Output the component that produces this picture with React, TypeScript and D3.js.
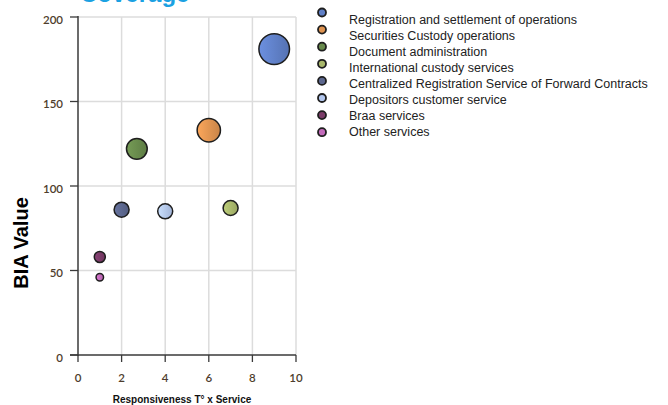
import React, { useEffect, useRef } from 'react';
import * as d3 from 'd3';

const services = [
  'Registration and settlement of operations',
  'Securities Custody operations',
  'Document administration',
  'International custody services',
  'Centralized Registration Service of Forward Contracts',
  'Depositors customer service',
  'Braa services',
  'Other services',
];
const responsiveness = [9, 6, 2.7, 7, 2, 4, 1, 1];
const biaValue = [181, 133, 122, 87, 86, 85, 58, 46];
const bubbleSize = [100, 58, 46, 24, 24, 24, 13, 6];
const colors = ['#5f7fc6', '#de9350', '#688a4c', '#a9b86c', '#5c678e', '#b3c7ee', '#7a3b68', '#c36bbb'];
const xTicks = [0, 2, 4, 6, 8, 10];
const yTicks = [0, 50, 100, 150, 200];

export default function App() {
  const svgRef = useRef<SVGSVGElement>(null);

  useEffect(() => {
    if (!svgRef.current) return;
    const svg = d3.select(svgRef.current);
    svg.selectAll('*').remove();

    const x = d3.scaleLinear().domain([0, 10]).range([78, 296]);
    const y = d3.scaleLinear().domain([0, 200]).range([355, 17]);
    const r = d3.scaleSqrt().domain([0, 100]).range([0, 15.3]);

    // title, cut by the top edge as in the source
    svg.append('text')
      .attr('x', 80).attr('y', 1.5)
      .attr('font-family', 'Liberation Sans, Arial, sans-serif')
      .attr('font-weight', 'bold').attr('font-size', 24)
      .attr('fill', '#1ba1e2')
      .text('Coverage');

    const defs = svg.append('defs');
    colors.forEach((c, i) => {
      const g = defs.append('linearGradient').attr('id', `bg${i}`)
        .attr('x1', '0%').attr('x2', '100%').attr('y1', '0%').attr('y2', '0%');
      g.append('stop').attr('offset', '0%').attr('stop-color', d3.color(c)!.brighter(0.35).formatHex());
      g.append('stop').attr('offset', '100%').attr('stop-color', d3.color(c)!.darker(0.3).formatHex());
    });

    // grid
    const grid = svg.append('g').attr('stroke', '#dcdcdc').attr('stroke-width', 1.5);
    xTicks.filter(t => t > 0).forEach(t => {
      grid.append('line').attr('x1', x(t)).attr('x2', x(t)).attr('y1', y(200)).attr('y2', y(0));
    });
    yTicks.filter(t => t > 0).forEach(t => {
      grid.append('line').attr('x1', x(0)).attr('x2', x(10)).attr('y1', y(t)).attr('y2', y(t));
    });

    // axes
    const axisColor = '#3a3a3a';
    svg.append('line').attr('x1', x(0)).attr('x2', x(0)).attr('y1', y(200) - 1).attr('y2', y(0) + 1)
      .attr('stroke', axisColor).attr('stroke-width', 1.5);
    svg.append('line').attr('x1', x(0) - 8).attr('x2', x(10)).attr('y1', y(0)).attr('y2', y(0))
      .attr('stroke', axisColor).attr('stroke-width', 1.5);

    const tickFont = 'Lato, Open Sans, sans-serif';
    const tickColor = '#4e3d2c';
    yTicks.forEach(t => {
      svg.append('line').attr('x1', x(0) - 8).attr('x2', x(0)).attr('y1', y(t)).attr('y2', y(t))
        .attr('stroke', axisColor).attr('stroke-width', 1.3);
      svg.append('text').attr('x', 63).attr('y', y(t) + 6.5)
        .attr('text-anchor', 'end').attr('font-family', tickFont).attr('font-size', 11.5)
        .attr('font-weight', 600)
        .attr('fill', tickColor).text(t);
    });
    xTicks.forEach(t => {
      svg.append('line').attr('x1', x(t)).attr('x2', x(t)).attr('y1', y(0)).attr('y2', y(0) + 7)
        .attr('stroke', axisColor).attr('stroke-width', 1.3);
      svg.append('text').attr('x', x(t)).attr('y', 382)
        .attr('text-anchor', 'middle').attr('font-family', tickFont).attr('font-size', 11.5)
        .attr('font-weight', 600)
        .attr('fill', tickColor).text(t);
    });

    // axis titles
    svg.append('text')
      .attr('transform', 'translate(28,243) rotate(-90)')
      .attr('text-anchor', 'middle')
      .attr('font-family', 'Liberation Sans, Arial, sans-serif')
      .attr('font-weight', 'bold').attr('font-size', 20).attr('fill', '#000')
      .text('BIA Value');
    svg.append('text')
      .attr('x', 182).attr('y', 403)
      .attr('text-anchor', 'middle')
      .attr('font-family', 'Liberation Sans, Arial, sans-serif')
      .attr('font-weight', 'bold').attr('font-size', 10).attr('fill', '#111')
      .text('Responsiveness T° x Service');

    // bubbles
    const data = services.map((s, i) => ({ s, i, x: responsiveness[i], y: biaValue[i], z: bubbleSize[i] }));
    svg.append('g').selectAll('circle')
      .data(data)
      .join('circle')
      .attr('cx', d => x(d.x))
      .attr('cy', d => y(d.y))
      .attr('r', d => r(d.z))
      .attr('fill', d => `url(#bg${d.i})`)
      .attr('stroke', '#1e1e1e')
      .attr('stroke-width', 1.5);

    // legend
    const legend = svg.append('g');
    services.forEach((s, i) => {
      legend.append('circle')
        .attr('cx', 322).attr('cy', 12.5 + i * 17.1).attr('r', 4)
        .attr('fill', colors[i]).attr('stroke', '#1e1e1e').attr('stroke-width', 1.8);
      legend.append('text')
        .attr('x', 349).attr('y', 24 + i * 16)
        .attr('font-family', 'Liberation Sans, Arial, sans-serif')
        .attr('font-size', 12.5).attr('fill', '#222')
        .text(s);
    });
  }, []);

  return (
    <div style={{ position: 'fixed', left: 0, top: 0 }}>
      <svg ref={svgRef} width={668} height={405} style={{ display: 'block', background: '#fff' }} />
    </div>
  );
}
